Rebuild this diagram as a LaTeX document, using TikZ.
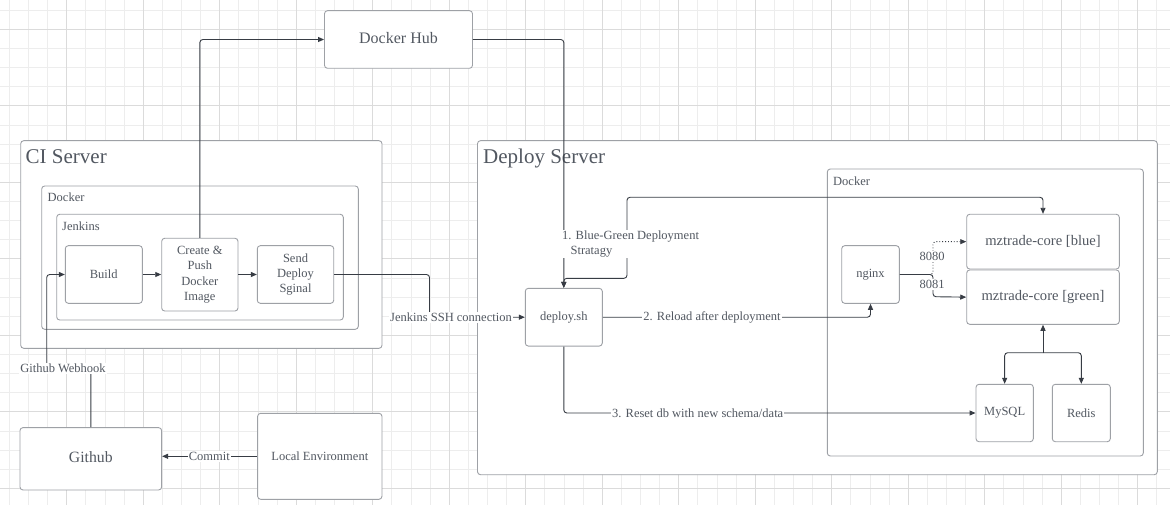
\documentclass[tikz,border=0pt]{standalone}
\usepackage{fontspec}
\setmainfont{Liberation Serif}
\usetikzlibrary{arrows.meta}
\definecolor{txt}{RGB}{82,88,97}
\definecolor{boxc}{RGB}{158,161,166}
\definecolor{linec}{RGB}{55,60,68}
\definecolor{gmin}{RGB}{237,237,237}
\definecolor{gmaj}{RGB}{219,219,219}
\tikzset{
  box/.style={draw=boxc, fill=white, rounded corners=3pt, line width=0.9pt, inner sep=0pt, text=txt, align=center, font=\fontsize{12.5}{15.3}\selectfont},
  conn/.style={draw=linec, line width=0.9pt, rounded corners=3pt},
  arr/.style={-{Triangle[length=6pt,width=5pt]}},
  lbl/.style={fill=white, text=txt, inner sep=1pt, font=\fontsize{12.5}{15}\selectfont},
  title/.style={text=txt, inner sep=0pt, anchor=base west, font=\fontsize{21}{24}\selectfont},
  sublbl/.style={text=txt, inner sep=0pt, anchor=base west, font=\fontsize{12.5}{15}\selectfont},
  gminor/.style={draw=gmin, line width=0.8pt},
  gmajor/.style={draw=gmaj, line width=0.8pt}
}
\begin{document}
\begin{tikzpicture}[x=1pt,y=-1pt]
\useasboundingbox (0,0) rectangle (1170,505);
\fill[white] (0,0) rectangle (1170,505);
% grid
\foreach \i in {0,...,60} { \draw[gminor] ({9.3+19.125*\i},0) -- ({9.3+19.125*\i},505); }
\foreach \i in {0,...,25} { \draw[gminor] (0,{10.2+19.125*\i}) -- (1170,{10.2+19.125*\i}); }
\foreach \i in {0,...,14} { \draw[gmajor] ({66.7+76.5*\i},0) -- ({66.7+76.5*\i},505); }
\foreach \i in {0,...,6} { \draw[gmajor] (0,{29.3+76.5*\i}) -- (1170,{29.3+76.5*\i}); }

% containers
\node[box, minimum width=361.3pt, minimum height=207.6pt] (ci) at (201.35,244.5) {};
\node[title] (citext) at (25.5,163.3) {CI Server};
\node[box, minimum width=316.6pt, minimum height=143.3pt] (cidocker) at (200,257.65) {};
\node[sublbl] (cidockertext) at (47.5,202) {Docker};
\node[box, minimum width=286.6pt, minimum height=105.7pt] (jenkins) at (200,267.15) {};
\node[sublbl] (jenkinstext) at (62,230.5) {Jenkins};

\node[box, minimum width=679.8pt, minimum height=334pt] (ds) at (817.4,307.7) {};
\node[title] (dstext) at (483,163.3) {Deploy Server};
\node[box, minimum width=316pt, minimum height=287pt] (dsdocker) at (985.3,312.5) {};
\node[sublbl] (dsdockertext) at (833,185.3) {Docker};

% nodes
\node[box, minimum width=77pt, minimum height=57.6pt] (build) at (103.8,274.5) {Build};
\node[box, minimum width=76.3pt, minimum height=72.7pt] (create) at (199.85,274.65) {Create \&\\Push\\Docker\\Image};
\node[box, minimum width=76.4pt, minimum height=57.6pt] (send) at (295.5,274.5) {Send\\Deploy\\Sginal};
\node[box, minimum width=148pt, minimum height=57.6pt, font=\fontsize{16}{19}\selectfont] (hub) at (398.5,39.5) {Docker Hub\vphantom{p}};
\node[box, minimum width=141.7pt, minimum height=62.3pt, font=\fontsize{15.7}{19}\selectfont] (github) at (90.8,458.8) {Github\vphantom{p}};
\node[box, minimum width=124.3pt, minimum height=86pt] (local) at (319.8,456.3) {Local Environment};

\node[box, minimum width=77pt, minimum height=57.7pt] (deploy) at (563.8,317.2) {deploy.sh};
\node[box, minimum width=57.6pt, minimum height=57.6pt] (nginx) at (870.5,274.5) {nginx};
\node[box, minimum width=152.6pt, minimum height=54.7pt, font=\fontsize{14.6}{17}\selectfont] (blue) at (1043,241.65) {mztrade-core [blue]};
\node[box, minimum width=152.6pt, minimum height=54.3pt, font=\fontsize{14.6}{17}\selectfont] (green) at (1043,297.15) {mztrade-core [green]};
\node[box, minimum width=57.3pt, minimum height=57.4pt] (mysql) at (1004.65,413) {MySQL};
\node[box, minimum width=58pt, minimum height=57.4pt] (redis) at (1081.3,413) {Redis};

% connectors
\draw[conn,arr] (build.east) -- (build.east -| create.west);
\draw[conn,arr] (create.east |- send.west) -- (send.west);
\draw[conn,arr] (create.north) |- (hub.west);
\draw[conn,arr] (hub.east) -| (deploy.north);
\draw[conn,arr] (send.east) -- (429.5,274.5) -- (429.5,317.2) -- (deploy.west);
\node[lbl] (ssh) at (451,317.2) {Jenkins SSH connection};
\draw[conn,arr] (github.north) -- (90.8,368.7) -- (46.7,368.7) -- (46.7,274.5) -- (build.west);
\node[lbl] (hook) at (63,368.7) {Github Webhook};
\draw[conn,arr] (local.west) -- (local.west -| github.east);
\node[lbl] (commit) at (209.3,456.3) {Commit};

\draw[conn,arr] (deploy.east) -| (nginx.south);
\node[lbl] (reload) at (712,317.2) {2. Reload after deployment};
\draw[conn,arr] (deploy.south) |- (mysql.west);
\node[lbl] (reset) at (697.7,413) {3. Reset db with new schema/data};
\draw[conn,{Triangle[length=6pt,width=5pt]}-{Triangle[length=6pt,width=5pt]}] (blue.north) -- (1043,197.3) -- (627,197.3) -- (627,278.3) -- (563.8,278.3) -- (deploy.north);
\node[lbl, anchor=west, align=left, font=\fontsize{12.5}{15}\selectfont] (bg) at (561,244) {1. Blue-Green Deployment\\\hspace*{8.4pt}Stratagy};

\draw[conn,dotted,arr] (nginx.east) -- (933,274.5) -- (933,241.65) -- (blue.west);
\draw[conn,arr] (nginx.east) -- (933,274.5) -- (933,296.7) -- (green.west);
\node[lbl] (p8080) at (932,256.7) {8080};
\node[lbl] (p8081) at (932,284.3) {8081};

\coordinate (split) at (1043,352.7);
\draw[conn,arr] (split) -- (green.south);
\draw[conn,arr] (split) -| (mysql.north);
\draw[conn,arr] (split) -| (redis.north);
\end{tikzpicture}
\end{document}
